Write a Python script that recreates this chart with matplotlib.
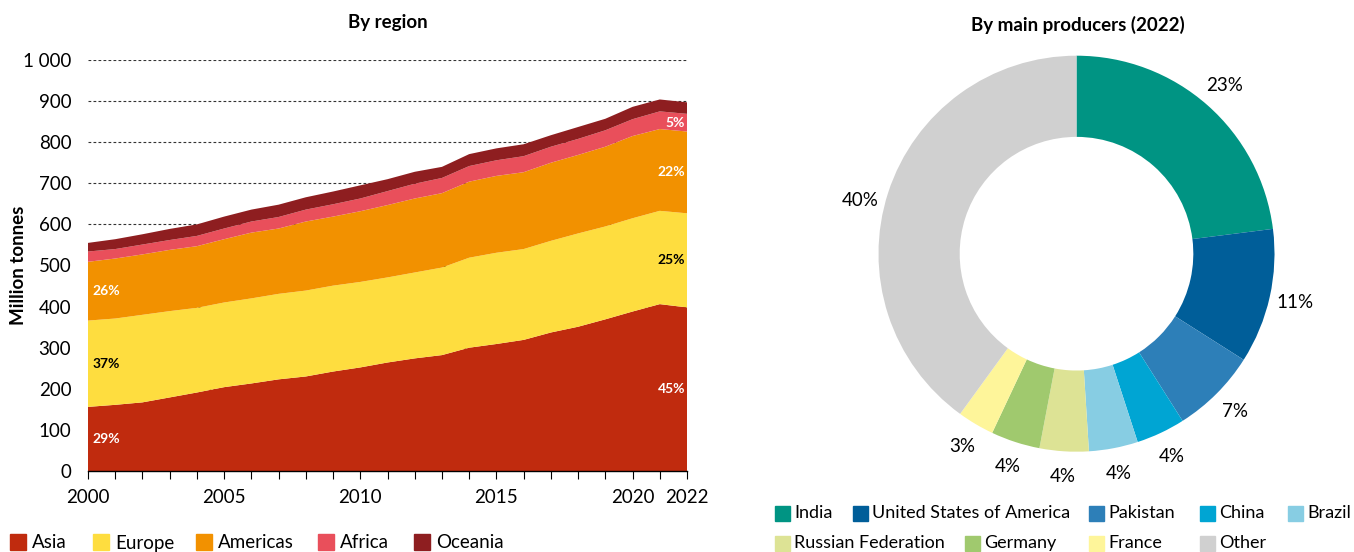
import matplotlib
matplotlib.use("Agg")
import matplotlib.pyplot as plt
from matplotlib.patches import Rectangle
from matplotlib.ticker import FuncFormatter, MultipleLocator
import numpy as np

plt.rcParams['font.family'] = ['Lato', 'DejaVu Sans']

# ---------------- data ----------------
years = list(range(2000, 2023))
asia = [156, 161, 167, 179, 191, 204, 213, 223, 230, 242, 252, 264, 274,
        282, 300, 309, 319, 337, 351, 369, 388, 406, 398]
europe = [210, 210, 213, 210, 206, 206, 207, 208, 209, 209, 208, 207, 209,
          213, 219, 222, 221, 223, 227, 226, 227, 227, 229]
americas = [143, 146, 147, 149, 150, 154, 160, 159, 168, 168, 172, 176, 180,
            181, 185, 187, 187, 190, 191, 194, 200, 199, 199]
africa = [25, 23, 24, 24, 25, 26, 27, 28, 29, 30, 31, 34, 36,
          37, 38, 38, 39, 39, 39, 40, 41, 43, 43]
oceania = [21, 24, 25, 27, 28, 29, 29, 30, 30, 31, 32, 29, 29,
           27, 29, 29, 29, 28, 29, 28, 30, 29, 28]
regions = ["Asia", "Europe", "Americas", "Africa", "Oceania"]
region_colors = ["#c02b0e", "#fedd3f", "#f29100", "#e94f5b", "#8e1e20"]
share_2000 = ["29%", "37%", "26%", "", ""]
share_2022 = ["45%", "25%", "22%", "5%", ""]
share_text_colors = ["white", "black", "white", "white", "white"]

producers = ["India", "United States of America", "Pakistan", "China", "Brazil",
             "Russian Federation", "Germany", "France", "Other"]
producer_share = [23, 11, 7, 4, 4, 4, 4, 3, 40]
producer_colors = ["#009483", "#005e99", "#2d7fb8", "#00a5d3", "#87cde3",
                   "#dde395", "#a0c96e", "#fef59a", "#d0d0d0"]

W, H = 1354, 552
FS = 13.5
fig = plt.figure(figsize=(W / 100, H / 100), dpi=100)

# ---------------- left: stacked area ----------------
ax = fig.add_axes([88 / W, 1 - 471 / H, (687 - 88) / W, (471 - 60) / H])
series = [asia, europe, americas, africa, oceania]
ax.stackplot(years, *series, colors=region_colors, linewidth=0, zorder=2)
ax.set_xlim(2000, 2022)
ax.set_ylim(0, 1000)
ax.yaxis.set_major_locator(MultipleLocator(100))
ax.grid(axis='y', color='#333333', linestyle=(0, (2.5, 2)), linewidth=0.8, zorder=1)
ax.set_axisbelow(True)
for s in ['top', 'right', 'left']:
    ax.spines[s].set_visible(False)
ax.spines['bottom'].set_color('black')
ax.spines['bottom'].set_linewidth(1.0)
ax.set_xticks(years)
ax.set_xticklabels([str(y) if y in (2000, 2005, 2010, 2015, 2020, 2022) else ""
                    for y in years], fontsize=FS)
ax.tick_params(axis='x', direction='out', length=6, width=0.8, pad=7)
ax.tick_params(axis='y', length=0, labelsize=FS, pad=12)
ax.yaxis.set_major_formatter(FuncFormatter(
    lambda v, p: f"{int(v):,}".replace(",", " ")))
ax.set_ylabel("Million tonnes", fontsize=FS, fontweight='bold')
ax.yaxis.set_label_coords((27 - 88) / 599, 0.5)
ax.set_title("By region", fontsize=FS, fontweight='bold', pad=23)

cum = np.cumsum(np.array(series), axis=0)
for i in range(len(series)):
    lo0 = cum[i - 1][0] if i > 0 else 0
    lo1 = cum[i - 1][-1] if i > 0 else 0
    if share_2000[i]:
        ax.text(2000.15, (lo0 + cum[i][0]) / 2, share_2000[i], fontsize=10,
                fontweight='bold', color=share_text_colors[i], va='center', ha='left', zorder=3)
    if share_2022[i]:
        ax.text(2021.93, (lo1 + cum[i][-1]) / 2, share_2022[i], fontsize=10,
                fontweight='bold', color=share_text_colors[i], va='center', ha='right', zorder=3)

# left legend (manual layout)
leg_x = [10, 93, 196, 318, 414]
for name, col, x in zip(regions, region_colors, leg_x):
    fig.patches.append(Rectangle((x / W, 1 - 550 / H), 16 / W, 16 / H,
                                 transform=fig.transFigure, color=col))
    fig.text((x + 22) / W, 1 - 543 / H, name, fontsize=FS, va='center', ha='left')

# ---------------- right: donut ----------------
cx, cy, R = 1076.5, 253.7, 198.0
half = 240
ax2 = fig.add_axes([(cx - half) / W, 1 - (cy + half) / H, 2 * half / W, 2 * half / H])
wedges, texts = ax2.pie(producer_share, colors=producer_colors, startangle=90,
                        counterclock=False, radius=1.0,
                        wedgeprops=dict(width=0.41, linewidth=0),
                        labels=[f"{v}%" for v in producer_share], labeldistance=1.13,
                        textprops=dict(fontsize=FS, ha='center', va='center'))
# the "Other" label sits a little lower in the original
tx, ty = texts[-1].get_position()
texts[-1].set_position((tx - 0.02, ty - 0.08))
lim = half / R
ax2.set_xlim(-lim, lim)
ax2.set_ylim(-lim, lim)
ax2.set_aspect('equal')
ax2.axis('off')
fig.text(1078 / W, 1 - 25 / H, "By main producers (2022)", fontsize=FS,
         fontweight='bold', ha='center', va='center')

# right legend (manual layout)
row1 = [(775, 0), (853, 1), (1089, 2), (1200, 3), (1288, 4)]
row2 = [(775, 5), (965, 6), (1089, 7), (1200, 8)]
for ypos, row in ((513, row1), (543, row2)):
    for x, k in row:
        fig.patches.append(Rectangle((x / W, 1 - (ypos + 7.5) / H), 15 / W, 15 / H,
                                     transform=fig.transFigure, color=producer_colors[k]))
        fig.text((x + 19) / W, 1 - ypos / H, producers[k], fontsize=13,
                 va='center', ha='left')

fig.savefig("out.png", dpi=100)
